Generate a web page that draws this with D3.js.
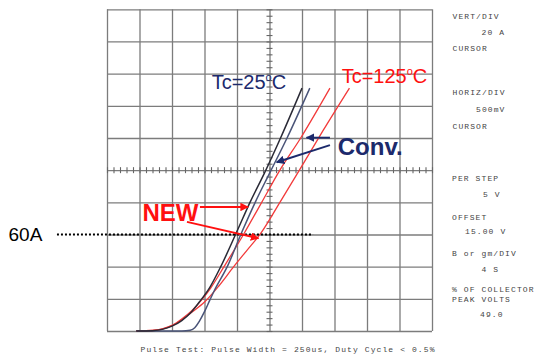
<!DOCTYPE html>
<html>
<head>
<meta charset="utf-8">
<script src="https://cdn.jsdelivr.net/npm/d3@7"></script>
<style>
  html, body { margin: 0; padding: 0; background: #fff; }
  svg { display: block; }
  .mono { font-family: "Liberation Mono", "DejaVu Sans Mono", monospace; font-size: 8px; letter-spacing: 1.1px; fill: #444; }
  .sans { font-family: "Liberation Sans", Arial, sans-serif; }
</style>
</head>
<body>
<svg id="chart" width="536" height="356"></svg>
<script>
// Collector current (A) vs collector-emitter voltage (V), curve tracer capture
const voltTicks = [0, 0.5, 1, 1.5, 2, 2.5, 3, 3.5, 4, 4.5, 5];      // 500 mV / div
const ampTicks  = [0, 20, 40, 60, 80, 100, 120, 140, 160, 180, 200]; // 20 A / div

// [Vce (V), Ic (A)]
const newAt25 = [[0.45,0],[0.5,0],[0.7,0.2],[0.85,1],[1.0,3],[1.15,6.5],[1.28,11],[1.42,18],
  [1.58,27],[1.75,40],[2.0,62],[2.2,80],[2.42,98],[2.67,120],[3.0,151]];
const convAt25 = [[0.45,0],[1.15,0],[1.28,0.5],[1.35,2],[1.42,6],[1.5,12],[1.58,19],[1.65,25],
  [1.85,40],[2.08,62],[2.28,80],[2.5,98],[2.77,120],[3.12,151]];
const convAt125 = [[0.45,0],[0.5,0],[0.7,0.3],[0.85,1.3],[1.0,3.5],[1.15,7.5],[1.3,12.5],[1.45,19],
  [1.6,27],[1.8,40],[2.1,60],[2.38,80],[2.66,100],[2.98,120],[3.43,151]];
const newAt125 = [[0.45,0],[0.5,0],[0.7,0.3],[0.85,1.2],[1.0,3.3],[1.15,7],[1.3,11.5],[1.5,18],
  [1.72,28],[1.95,40],[2.15,50],[2.37,61],[2.66,80],[2.96,100],[3.33,125],[3.73,151]];

const seriesData   = [convAt125, newAt125, convAt25, newAt25];
const seriesColors = ["#f23a3a", "#f23a3a", "#4a5478", "#2a2a36"];
const seriesWidths = [1.3, 1.3, 1.5, 1.5];

// Reference level
const refCurrent = 60;
const refLabel = "60A";

// Annotation arrows: [fromV, fromA, toV, toA]
const newArrows  = [[1.43, 77.1, 2.17, 77.1], [1.23, 67.8, 2.33, 57.6]];
const convArrows = [[3.43, 120.2, 3.07, 120.2], [3.43, 115.6, 2.61, 104.9]];

// Instrument settings panel
const panelText = ["VERT/DIV", "20 A", "CURSOR", "HORIZ/DIV", "500mV", "CURSOR",
  "PER STEP", "5 V", "OFFSET", "15.00 V", "B or gm/DIV", "4 S",
  "% OF COLLECTOR", "PEAK VOLTS", "49.0"];
const footerText = "Pulse Test: Pulse Width = 250us, Duty Cycle < 0.5%";

// ---- layout ----
const svg = d3.select("#chart");
const plot = { left: 107, right: 432, top: 9.3, bottom: 331 };
const x = d3.scaleLinear().domain([0, 5]).range([plot.left, plot.right]);
const y = d3.scaleLinear().domain([0, 200]).range([plot.bottom, plot.top]);
const gridColor = "#7c7c7c";

// major grid (vertical and horizontal division lines)
const gx = svg.append("g").attr("transform", `translate(0,${plot.bottom})`)
  .call(d3.axisBottom(x).tickValues(voltTicks).tickSize(-(plot.bottom - plot.top)).tickFormat(""));
const gy = svg.append("g").attr("transform", `translate(${plot.left},0)`)
  .call(d3.axisLeft(y).tickValues(ampTicks).tickSize(-(plot.right - plot.left)).tickFormat(""));
[gx, gy].forEach(g => {
  g.select(".domain").remove();
  g.selectAll(".tick line").attr("stroke", gridColor).attr("stroke-width", 1.3);
});

// minor graduations on the centre cross
const minorV = d3.range(0, 5.0001, 0.1);
const minorA = d3.range(0, 200.0001, 4);
const cxAxis = svg.append("g").attr("transform", `translate(0,${y(100) + 3})`)
  .call(d3.axisBottom(x).tickValues(minorV).tickSize(-6).tickFormat(""));
const cyAxis = svg.append("g").attr("transform", `translate(${x(2.5) - 3},0)`)
  .call(d3.axisLeft(y).tickValues(minorA).tickSize(-6).tickFormat(""));
[cxAxis, cyAxis].forEach(g => {
  g.select(".domain").remove();
  g.selectAll(".tick line").attr("stroke", "#666").attr("stroke-width", 1.1);
});

// curves
const line = d3.line().x(d => x(d[0])).y(d => y(d[1])).curve(d3.curveMonotoneX);
svg.append("g").selectAll("path").data(seriesData).join("path")
  .attr("d", line)
  .attr("fill", "none")
  .attr("stroke", (d, i) => seriesColors[i])
  .attr("stroke-width", (d, i) => seriesWidths[i])
  .attr("stroke-linejoin", "round");

// reference level line
svg.append("line")
  .attr("x1", x(-0.77)).attr("x2", x(3.17))
  .attr("y1", y(refCurrent)).attr("y2", y(refCurrent))
  .attr("stroke", "#000").attr("stroke-width", 2.2).attr("stroke-dasharray", "2 2");
svg.append("text").attr("class", "sans")
  .attr("x", x(-1.515)).attr("y", y(refCurrent) + 6.5)
  .attr("font-size", 19).attr("fill", "#000").text(refLabel);

// arrow markers
const defs = svg.append("defs");
function marker(id, color) {
  defs.append("marker").attr("id", id)
    .attr("viewBox", "0 0 10 10").attr("refX", 9).attr("refY", 5)
    .attr("markerWidth", 4.5).attr("markerHeight", 4.5).attr("markerUnits", "strokeWidth")
    .attr("orient", "auto")
    .append("path").attr("d", "M0,0 L10,5 L0,10 Z").attr("fill", color);
}
marker("headRed", "#ff1010");
marker("headNavy", "#1c2a6c");

function arrows(data, color, head) {
  svg.append("g").selectAll("line").data(data).join("line")
    .attr("x1", d => x(d[0])).attr("y1", d => y(d[1]))
    .attr("x2", d => x(d[2])).attr("y2", d => y(d[3]))
    .attr("stroke", color).attr("stroke-width", 1.9)
    .attr("marker-end", `url(#${head})`);
}
arrows(newArrows, "#ff1010", "headRed");
arrows(convArrows, "#1c2a6c", "headNavy");

// temperature labels
function tempLabel(v, a, num, color) {
  const t = svg.append("text").attr("class", "sans")
    .attr("x", x(v)).attr("y", y(a)).attr("font-size", 20).attr("fill", color);
  t.append("tspan").text("Tc=" + num);
  t.append("tspan").attr("font-size", 11).attr("dy", -8).text("o");
  t.append("tspan").attr("dy", 8).text("C");
}
tempLabel(1.61, 150.5, "25", "#1c2a6c");
tempLabel(3.61, 154.2, "125", "#ff1010");

svg.append("text").attr("class", "sans")
  .attr("x", x(3.55)).attr("y", y(109.4))
  .attr("font-size", 24).attr("font-weight", "bold").attr("fill", "#1c2a6c").text("Conv.");
svg.append("text").attr("class", "sans")
  .attr("x", x(0.546)).attr("y", y(68.6))
  .attr("font-size", 24).attr("font-weight", "bold").attr("fill", "#ff1010").text("NEW");

// settings panel
const panelX = [452.5, 481.5, 452.5, 452.5, 476, 452.5, 452, 483, 452, 465, 452, 481.5, 452, 452, 480];
const panelY = [18.5, 35, 50.7, 95, 112.3, 128.5, 180.7, 196.7, 220, 233.5, 256, 272.3, 292, 301.5, 317.3];
svg.append("g").selectAll("text").data(panelText).join("text")
  .attr("class", "mono")
  .attr("x", (d, i) => panelX[i]).attr("y", (d, i) => panelY[i])
  .text(d => d);

svg.append("text").attr("class", "mono")
  .attr("x", 140.5).attr("y", 351.5).text(footerText);
</script>
</body>
</html>
